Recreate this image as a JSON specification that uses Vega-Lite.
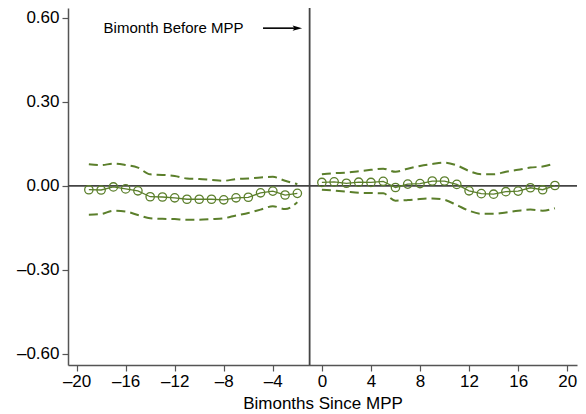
{
  "$schema": "https://vega.github.io/schema/vega-lite/v6.json",
  "width": 509,
  "height": 357,
  "autosize": {"type": "none"},
  "padding": {"left": 68, "top": 8, "right": 9, "bottom": 49},
  "background": "white",
  "config": {
    "view": {"stroke": null},
    "font": "Liberation Sans",
    "axis": {
      "grid": false,
      "domainColor": "#555555",
      "domainWidth": 1.5,
      "tickColor": "#555555",
      "tickWidth": 1.2,
      "tickSize": 6,
      "labelColor": "#000000",
      "titleColor": "#000000",
      "labelFont": "Liberation Sans",
      "titleFont": "Liberation Sans",
      "labelFontSize": 17,
      "titleFontSize": 17,
      "titleFontWeight": "normal"
    }
  },
  "datasets": {
    "est": [
      {"t": -19, "b": -0.014, "lo": -0.103, "hi": 0.077, "seg": "pre"},
      {"t": -18, "b": -0.015, "lo": -0.101, "hi": 0.074, "seg": "pre"},
      {"t": -17, "b": -0.004, "lo": -0.089, "hi": 0.079, "seg": "pre"},
      {"t": -16, "b": -0.011, "lo": -0.092, "hi": 0.074, "seg": "pre"},
      {"t": -15, "b": -0.018, "lo": -0.104, "hi": 0.065, "seg": "pre"},
      {"t": -14, "b": -0.039, "lo": -0.116, "hi": 0.041, "seg": "pre"},
      {"t": -13, "b": -0.040, "lo": -0.118, "hi": 0.039, "seg": "pre"},
      {"t": -12, "b": -0.043, "lo": -0.119, "hi": 0.035, "seg": "pre"},
      {"t": -11, "b": -0.048, "lo": -0.121, "hi": 0.026, "seg": "pre"},
      {"t": -10, "b": -0.048, "lo": -0.121, "hi": 0.024, "seg": "pre"},
      {"t": -9, "b": -0.048, "lo": -0.119, "hi": 0.021, "seg": "pre"},
      {"t": -8, "b": -0.050, "lo": -0.116, "hi": 0.018, "seg": "pre"},
      {"t": -7, "b": -0.043, "lo": -0.106, "hi": 0.024, "seg": "pre"},
      {"t": -6, "b": -0.041, "lo": -0.097, "hi": 0.026, "seg": "pre"},
      {"t": -5, "b": -0.025, "lo": -0.085, "hi": 0.030, "seg": "pre"},
      {"t": -4, "b": -0.019, "lo": -0.073, "hi": 0.032, "seg": "pre"},
      {"t": -3, "b": -0.033, "lo": -0.083, "hi": 0.018, "seg": "pre"},
      {"t": -2, "b": -0.027, "lo": -0.059, "hi": 0.006, "seg": "pre"},
      {"t": 0, "b": 0.012, "lo": -0.014, "hi": 0.041, "seg": "post"},
      {"t": 1, "b": 0.014, "lo": -0.017, "hi": 0.045, "seg": "post"},
      {"t": 2, "b": 0.009, "lo": -0.021, "hi": 0.047, "seg": "post"},
      {"t": 3, "b": 0.013, "lo": -0.025, "hi": 0.052, "seg": "post"},
      {"t": 4, "b": 0.012, "lo": -0.026, "hi": 0.057, "seg": "post"},
      {"t": 5, "b": 0.016, "lo": -0.027, "hi": 0.061, "seg": "post"},
      {"t": 6, "b": -0.006, "lo": -0.053, "hi": 0.050, "seg": "post"},
      {"t": 7, "b": 0.006, "lo": -0.051, "hi": 0.061, "seg": "post"},
      {"t": 8, "b": 0.008, "lo": -0.047, "hi": 0.071, "seg": "post"},
      {"t": 9, "b": 0.017, "lo": -0.045, "hi": 0.078, "seg": "post"},
      {"t": 10, "b": 0.017, "lo": -0.050, "hi": 0.083, "seg": "post"},
      {"t": 11, "b": 0.005, "lo": -0.069, "hi": 0.073, "seg": "post"},
      {"t": 12, "b": -0.018, "lo": -0.089, "hi": 0.053, "seg": "post"},
      {"t": 13, "b": -0.028, "lo": -0.100, "hi": 0.041, "seg": "post"},
      {"t": 14, "b": -0.030, "lo": -0.100, "hi": 0.041, "seg": "post"},
      {"t": 15, "b": -0.021, "lo": -0.095, "hi": 0.050, "seg": "post"},
      {"t": 16, "b": -0.019, "lo": -0.089, "hi": 0.057, "seg": "post"},
      {"t": 17, "b": -0.007, "lo": -0.085, "hi": 0.065, "seg": "post"},
      {"t": 18, "b": -0.014, "lo": -0.089, "hi": 0.069, "seg": "post"},
      {"t": 19, "b": 0.001, "lo": -0.080, "hi": 0.080, "seg": "post"}
    ],
    "note": [
      {"label": "Bimonth Before MPP", "tx": -17.8, "ax0": -4.8, "ax1": -2.2, "ah": -2.0, "y": 0.563}
    ],
    "refs": [
      {"y0": 0, "x0": -1}
    ]
  },
  "layer": [
    {
      "data": {"name": "refs"},
      "mark": {"type": "rule", "color": "#444444", "strokeWidth": 1.8},
      "encoding": {
        "y": {"field": "y0", "type": "quantitative", "scale": {"domain": [-0.64, 0.635], "nice": false, "zero": false}}
      }
    },
    {
      "data": {"name": "refs"},
      "mark": {"type": "rule", "color": "#444444", "strokeWidth": 1.8},
      "encoding": {
        "x": {"field": "x0", "type": "quantitative"}
      }
    },
    {
      "data": {"name": "est"},
      "mark": {"type": "line", "color": "#5b7f2b", "strokeWidth": 2, "strokeDash": [9, 5], "interpolate": "monotone"},
      "encoding": {
        "x": {"field": "t", "type": "quantitative"},
        "y": {"field": "hi", "type": "quantitative"},
        "detail": {"field": "seg"}
      }
    },
    {
      "data": {"name": "est"},
      "mark": {"type": "line", "color": "#5b7f2b", "strokeWidth": 2, "strokeDash": [9, 5], "interpolate": "monotone"},
      "encoding": {
        "x": {"field": "t", "type": "quantitative"},
        "y": {"field": "lo", "type": "quantitative"},
        "detail": {"field": "seg"}
      }
    },
    {
      "data": {"name": "est"},
      "mark": {"type": "line", "color": "#5b7f2b", "strokeWidth": 1.3},
      "encoding": {
        "x": {"field": "t", "type": "quantitative"},
        "y": {"field": "b", "type": "quantitative"},
        "detail": {"field": "seg"}
      }
    },
    {
      "data": {"name": "est"},
      "mark": {"type": "point", "shape": "circle", "filled": false, "fill": "white", "fillOpacity": 0, "color": "#5b7f2b", "strokeWidth": 1.3, "size": 70, "opacity": 1},
      "encoding": {
        "x": {
          "field": "t", "type": "quantitative",
          "scale": {"domain": [-20.7, 20.8], "nice": false, "zero": false},
          "axis": {
            "title": "Bimonths Since MPP",
            "values": [-20, -16, -12, -8, -4, 0, 4, 8, 12, 16, 20],
            "labelExpr": "(datum.value < 0 ? '–' : '') + abs(datum.value)",
            "labelPadding": 2,
            "titlePadding": 6
          }
        },
        "y": {
          "field": "b", "type": "quantitative",
          "axis": {
            "title": null,
            "values": [-0.6, -0.3, 0, 0.3, 0.6],
            "labelExpr": "(datum.value < 0 ? '–' : '') + format(abs(datum.value), '.2f')",
            "labelPadding": 3
          }
        }
      }
    },
    {
      "data": {"name": "note"},
      "mark": {"type": "text", "align": "left", "baseline": "middle", "fontSize": 15, "font": "Liberation Sans", "color": "#000000"},
      "encoding": {
        "x": {"field": "tx", "type": "quantitative"},
        "y": {"field": "y", "type": "quantitative"},
        "text": {"field": "label"}
      }
    },
    {
      "data": {"name": "note"},
      "mark": {"type": "rule", "color": "#000000", "strokeWidth": 1.6},
      "encoding": {
        "x": {"field": "ax0", "type": "quantitative"},
        "x2": {"field": "ax1"},
        "y": {"field": "y", "type": "quantitative"}
      }
    },
    {
      "data": {"name": "note"},
      "mark": {"type": "point", "shape": "M -1 -0.55 L 1 0 L -1 0.55 L -0.6 0 Z", "filled": true, "color": "#000000", "size": 90, "opacity": 1},
      "encoding": {
        "x": {"field": "ah", "type": "quantitative"},
        "y": {"field": "y", "type": "quantitative"}
      }
    }
  ]
}
